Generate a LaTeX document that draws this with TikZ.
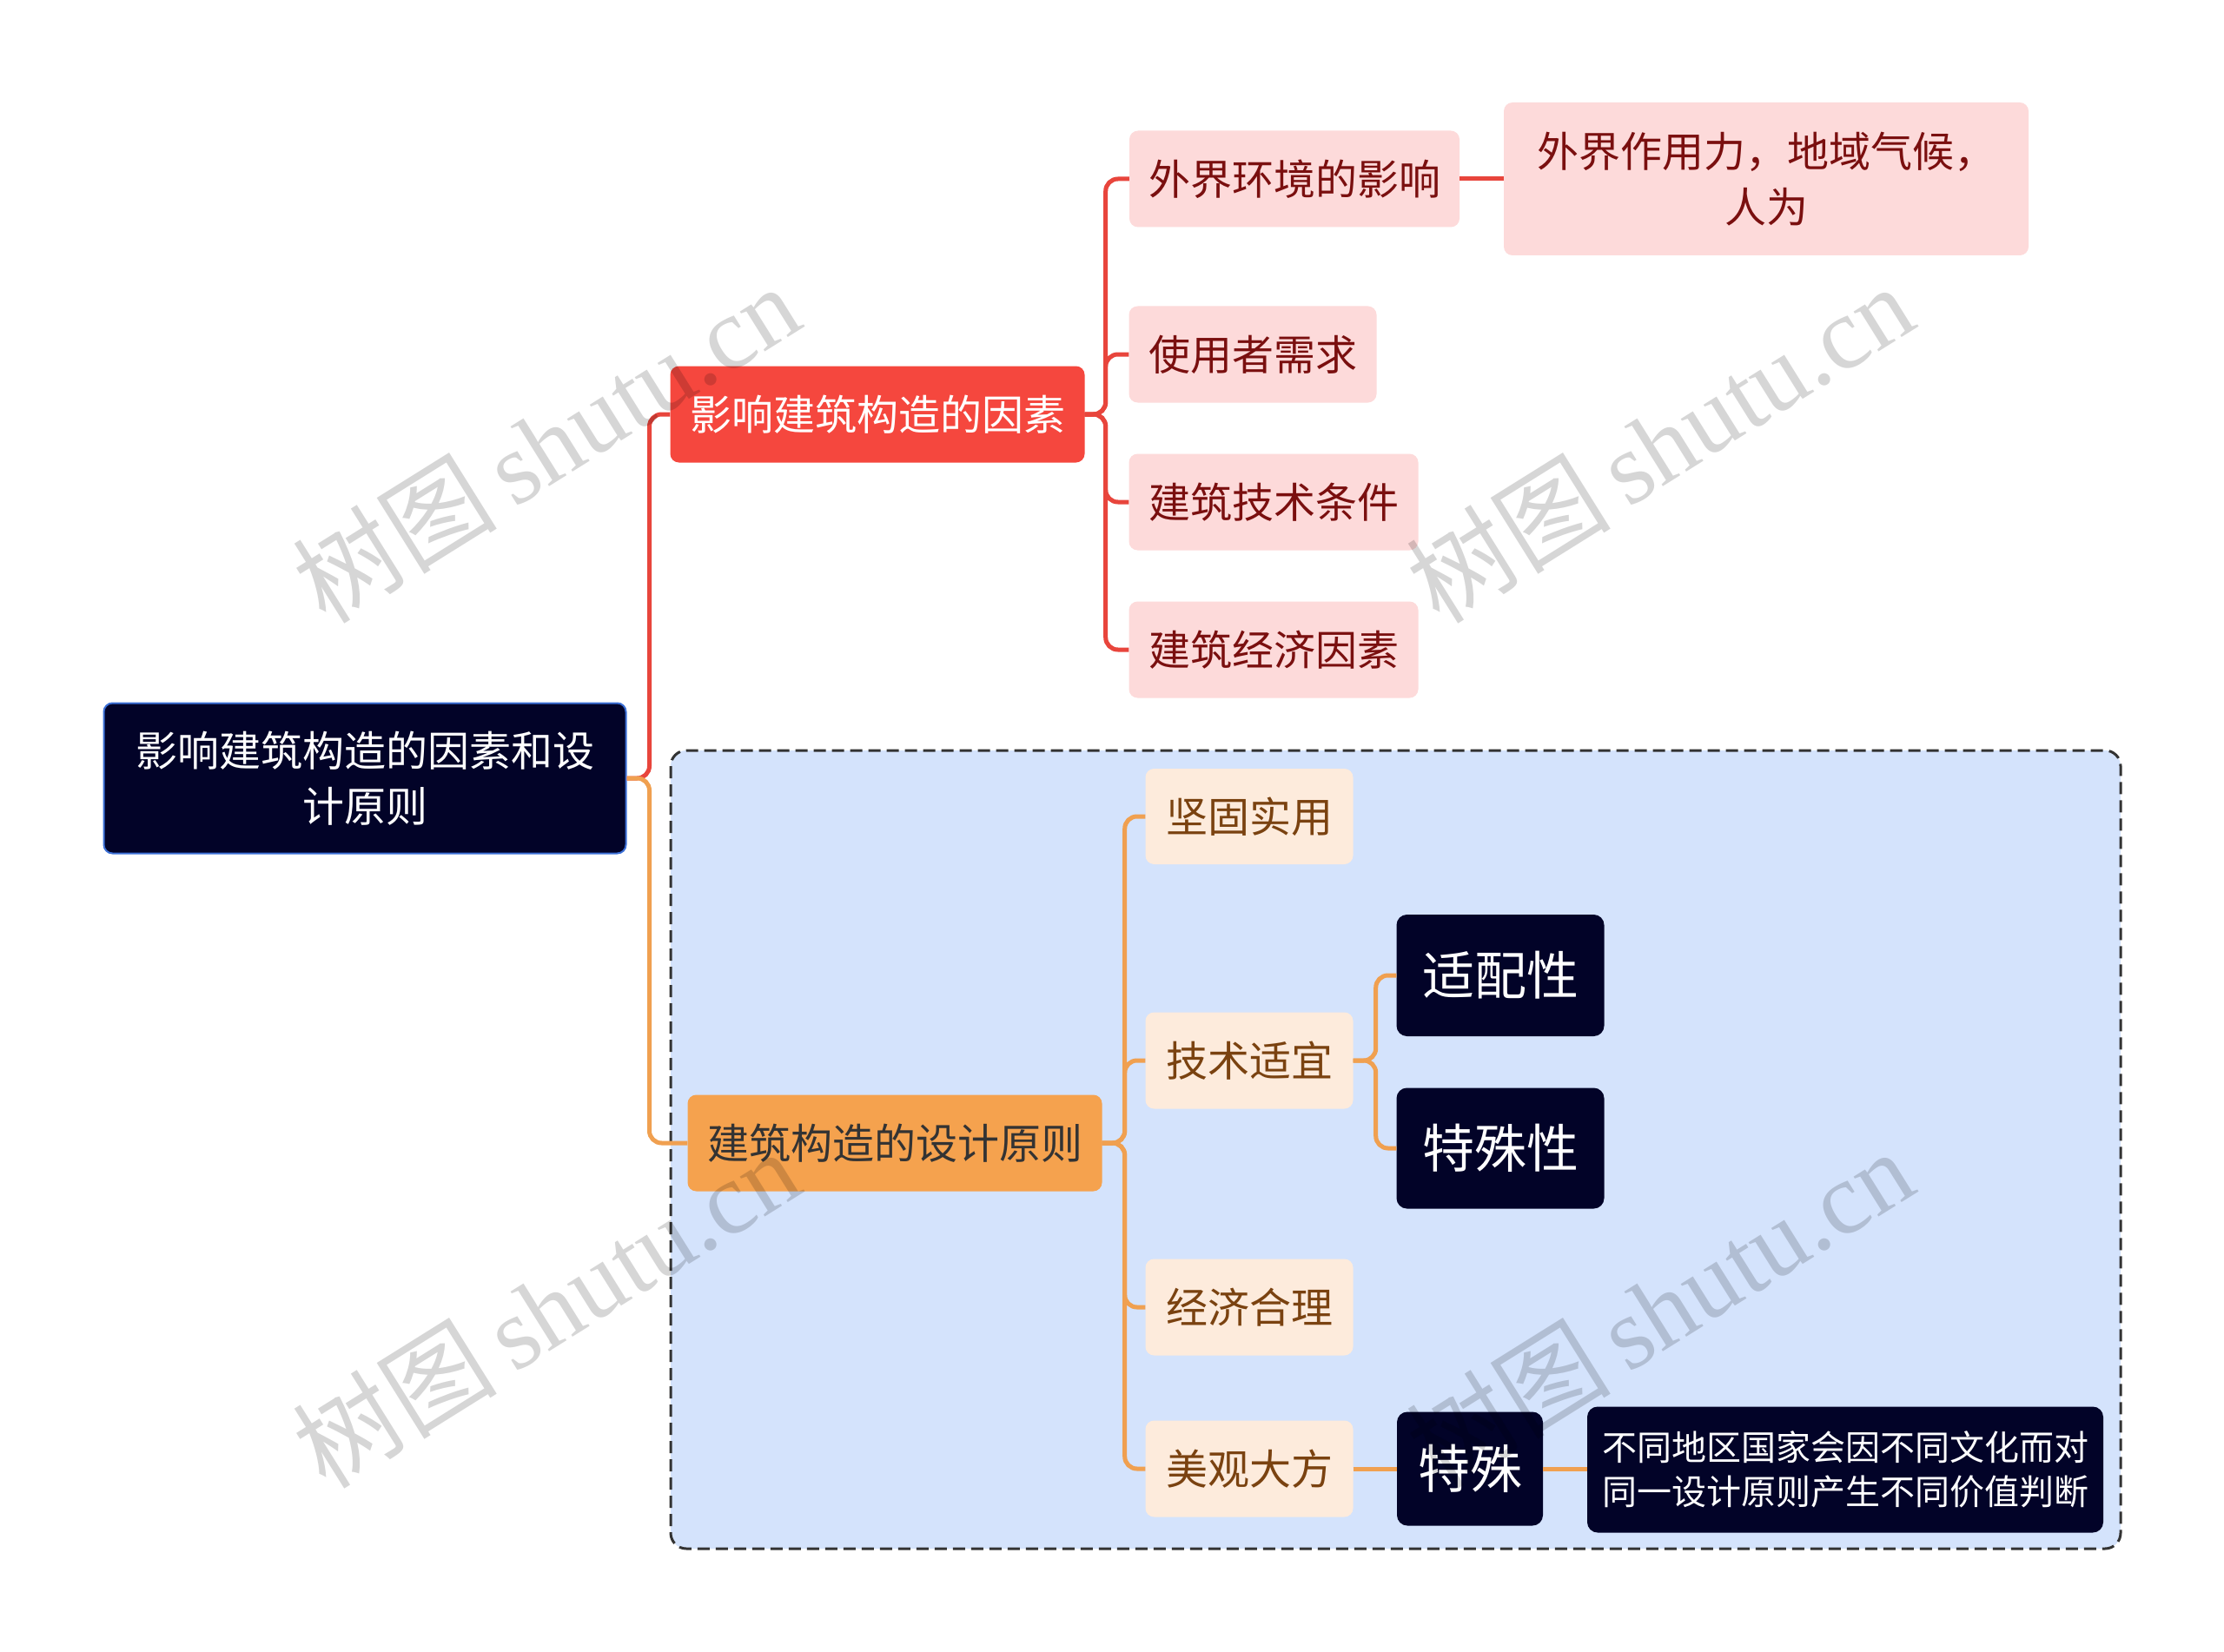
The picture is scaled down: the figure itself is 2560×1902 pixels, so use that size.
\documentclass[tikz,border=0pt]{standalone}
\usepackage{fontspec}
\setmainfont{Noto Sans CJK SC}
\newfontfamily\wmlat{Liberation Serif}
\newfontfamily\wmcjk{Noto Sans CJK SC}
\definecolor{rootfill}{HTML}{020328}
\definecolor{rootborder}{HTML}{3B6FD6}
\definecolor{redmain}{HTML}{F5473E}
\definecolor{redline}{HTML}{E8453C}
\definecolor{redlight}{HTML}{FDDADA}
\definecolor{redtext}{HTML}{7A0F0F}
\definecolor{orgmain}{HTML}{F5A24E}
\definecolor{orgline}{HTML}{F0A050}
\definecolor{orglight}{HTML}{FDEBDC}
\definecolor{orgtext}{HTML}{7A4210}
\definecolor{regionfill}{HTML}{D4E3FC}
\definecolor{regionborder}{HTML}{333333}
\newcommand{\fsmain}{\fontsize{48pt}{64pt}\selectfont}
\newcommand{\fsbig}{\fontsize{60pt}{72pt}\selectfont}
\newcommand{\fssmall}{\fontsize{40pt}{51pt}\selectfont}
\begin{document}
\begin{tikzpicture}[x=1pt,y=-1pt,
  box/.style={rounded corners=10pt, inner sep=0pt, align=center, anchor=center},
  rootbox/.style={box, fill=rootfill, draw=rootborder, line width=2pt, text=white, font=\fsmain},
  redbox/.style={box, fill=redmain, text=white, font=\fsmain},
  orgbox/.style={box, fill=orgmain, text=black!80, font=\fsmain},
  rlight/.style={box, fill=redlight, text=redtext, font=\fsmain},
  olight/.style={box, fill=orglight, text=orgtext, font=\fsmain},
  darkbox/.style={box, rounded corners=12pt, fill=rootfill, text=white, font=\fsbig},
  rconn/.style={draw=redline, line width=5pt, rounded corners=14pt},
  oconn/.style={draw=orgline, line width=5pt, rounded corners=14pt},
  region/.style={draw=regionborder, fill=regionfill, line width=3pt, dash pattern=on 14pt off 7pt, rounded corners=18pt},
  wm/.style={text=black, opacity=0.16, rotate=32, anchor=center, inner sep=0pt}
]
\useasboundingbox (0,0) rectangle (2560,1902);
\fill[white] (0,0) rectangle (2560,1902);

% region
\path[region] (772,864) rectangle (2441,1783);

% nodes
\node[rootbox, minimum width=601, minimum height=173, text width=560] (root) at (420,896) {影响建筑构造的因素和设\\计原则};
\node[redbox, minimum width=477, minimum height=111] (r1) at (1010,477) {影响建筑构造的因素};
\node[orgbox, minimum width=477, minimum height=111] (o1) at (1030,1316) {建筑构造的设计原则};

\node[rlight, minimum width=380, minimum height=111] (ra) at (1490,206) {外界环境的影响};
\node[rlight, minimum width=604, minimum height=176, text width=560] (raa) at (2033,206) {外界作用力，地域气候，\\人为};
\node[rlight, minimum width=285, minimum height=111] (rb) at (1442,408) {使用者需求};
\node[rlight, minimum width=333, minimum height=111] (rc) at (1466,578) {建筑技术条件};
\node[rlight, minimum width=333, minimum height=111] (rd) at (1466,748) {建筑经济因素};

\node[olight, minimum width=239, minimum height=110] (oa) at (1438,940) {坚固实用};
\node[olight, minimum width=239, minimum height=111] (ob) at (1438,1221) {技术适宜};
\node[olight, minimum width=239, minimum height=111] (oc) at (1438,1505) {经济合理};
\node[olight, minimum width=239, minimum height=111] (od) at (1438,1691) {美观大方};

\node[darkbox, minimum width=239, minimum height=140] (oba) at (1727,1123) {适配性};
\node[darkbox, minimum width=239, minimum height=139] (obb) at (1727,1322) {特殊性};
\node[darkbox, minimum width=168, minimum height=131] (oda) at (1692,1691) {特殊};
\node[darkbox, minimum width=594, minimum height=145, text width=570, font=\fssmall] (odaa) at (2124,1692) {不同地区国家会因不同文化而对\\同一设计原则产生不同价值判断};

% connectors
\draw[rconn] (root.east) -- ++(26,0) |- (r1.west);
\draw[oconn] (root.east) -- ++(26,0) |- (o1.west);

\draw[rconn] (r1.east) -- ++(24,0) |- (ra.west);
\draw[rconn] (r1.east) -- ++(24,0) |- (rb.west);
\draw[rconn] (r1.east) -- ++(24,0) |- (rc.west);
\draw[rconn] (r1.east) -- ++(24,0) |- (rd.west);
\draw[rconn] (ra.east) -- (raa.west |- ra.east);

\draw[oconn] (o1.east) -- ++(26,0) |- (oa.west);
\draw[oconn] (o1.east) -- ++(26,0) |- (ob.west);
\draw[oconn] (o1.east) -- ++(26,0) |- (oc.west);
\draw[oconn] (o1.east) -- ++(26,0) |- (od.west);

\draw[oconn] (ob.east) -- ++(26,0) |- (oba.west);
\draw[oconn] (ob.east) -- ++(26,0) |- (obb.west);
\draw[oconn] (od.east) -- (oda.west);
\draw[oconn] (oda.east) -- (odaa.west |- oda.east);

% watermarks
\node[wm] (wm1) at (628,510) {\fontsize{118pt}{118pt}\selectfont\wmcjk 树图\,\wmlat shutu.cn};
\node[wm] (wm2) at (1910,510) {\fontsize{118pt}{118pt}\selectfont\wmcjk 树图\,\wmlat shutu.cn};
\node[wm] (wm3) at (628,1506) {\fontsize{118pt}{118pt}\selectfont\wmcjk 树图\,\wmlat shutu.cn};
\node[wm] (wm4) at (1910,1506) {\fontsize{118pt}{118pt}\selectfont\wmcjk 树图\,\wmlat shutu.cn};
\end{tikzpicture}
\end{document}
